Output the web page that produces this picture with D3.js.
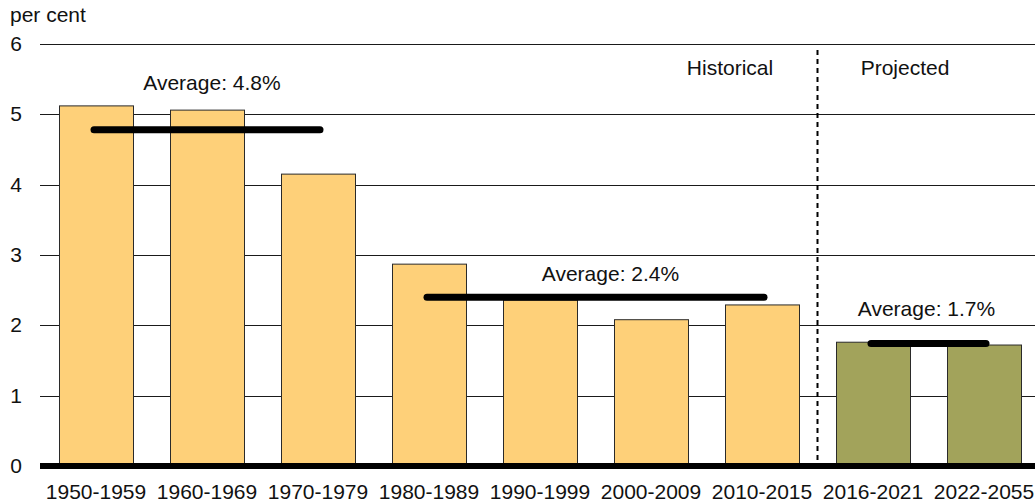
<!DOCTYPE html>
<html><head><meta charset="utf-8">
<script src="https://cdn.jsdelivr.net/npm/d3@7"></script>
<style>body{margin:0;background:#fff}svg text{font-family:"Liberation Sans",Arial,sans-serif;fill:#111}</style>
</head><body><svg id="c" width="1035" height="503"></svg>
<script>
const categories = ["1950-1959","1960-1969","1970-1979","1980-1989","1990-1999","2000-2009","2010-2015","2016-2021","2022-2055"];
const values = [5.12, 5.06, 4.15, 2.87, 2.36, 2.08, 2.29, 1.76, 1.72];
const projected = [false,false,false,false,false,false,false,true,true];
const yTicks = [0,1,2,3,4,5,6];
const averages = [
  {label:"Average: 4.8%", value:4.78, from:"1950-1959", to:"1970-1979", labelY:5.35, dx:5},
  {label:"Average: 2.4%", value:2.40, from:"1980-1989", to:"2010-2015", labelY:2.63, dx:15},
  {label:"Average: 1.7%", value:1.74, from:"2016-2021", to:"2022-2055", labelY:2.13, dx:-2}
];
const periodLabels = [{text:"Historical", x:730, y:5.56},{text:"Projected", x:905, y:5.56}];

const svg = d3.select("#c");
const mLeft = 40.5, mRight = 1039.5, mTop = 44, mBottom = 466;
const x = d3.scaleBand().domain(categories).range([mLeft,mRight]).paddingInner(1/3).paddingOuter(1/6);
const y = d3.scaleLinear().domain([0,6]).range([mBottom,mTop]);

// gridlines
svg.append("g").selectAll("line").data(yTicks.filter(d=>d>0)).join("line")
  .attr("x1",40).attr("x2",1035).attr("y1",d=>Math.round(y(d))+0.5).attr("y2",d=>Math.round(y(d))+0.5)
  .attr("stroke","#1a1a1a").attr("stroke-width",1);

// y axis labels
svg.append("g").selectAll("text").data(yTicks).join("text")
  .attr("x",22).attr("y",d=>y(d)+7).attr("text-anchor","end").attr("font-size",21).text(d=>d);
svg.append("text").attr("x",10).attr("y",22).attr("font-size",21).text("per cent");

// bars
svg.append("g").selectAll("rect").data(categories).join("rect")
  .attr("x",d=>Math.round(x(d))+0.5).attr("width",Math.round(x.bandwidth()))
  .attr("y",(d,i)=>y(values[i])).attr("height",(d,i)=>mBottom-y(values[i]))
  .attr("fill",(d,i)=>projected[i]?"#A2A35B":"#FED079")
  .attr("stroke","#2a2a2a").attr("stroke-width",1);

// dashed divider
const divX = x("2016-2021") - x.step()*x.paddingInner()/2;
svg.append("line").attr("x1",divX).attr("x2",divX).attr("y1",50).attr("y2",mBottom)
  .attr("stroke","#000").attr("stroke-width",2).attr("stroke-dasharray","5,4");

// zero axis
svg.append("line").attr("x1",40).attr("x2",1035).attr("y1",mBottom).attr("y2",mBottom)
  .attr("stroke","#000").attr("stroke-width",6);

// x labels
svg.append("g").selectAll("text").data(categories).join("text")
  .attr("x",d=>x(d)+x.bandwidth()/2).attr("y",499).attr("text-anchor","middle").attr("font-size",21).text(d=>d);

// averages
const cx = d=>x(d)+x.bandwidth()/2;
svg.append("g").selectAll("line").data(averages).join("line")
  .attr("x1",d=>cx(d.from)-2).attr("x2",d=>cx(d.to)+2).attr("y1",d=>y(d.value)).attr("y2",d=>y(d.value))
  .attr("stroke","#000").attr("stroke-width",7).attr("stroke-linecap","round");
svg.append("g").selectAll("text").data(averages).join("text")
  .attr("x",d=>(cx(d.from)+cx(d.to))/2+d.dx).attr("y",d=>y(d.labelY)).attr("text-anchor","middle").attr("font-size",21).text(d=>d.label);

svg.append("g").selectAll("text").data(periodLabels).join("text")
  .attr("x",d=>d.x).attr("y",d=>y(d.y)).attr("text-anchor","middle").attr("font-size",21).text(d=>d.text);
</script></body></html>
